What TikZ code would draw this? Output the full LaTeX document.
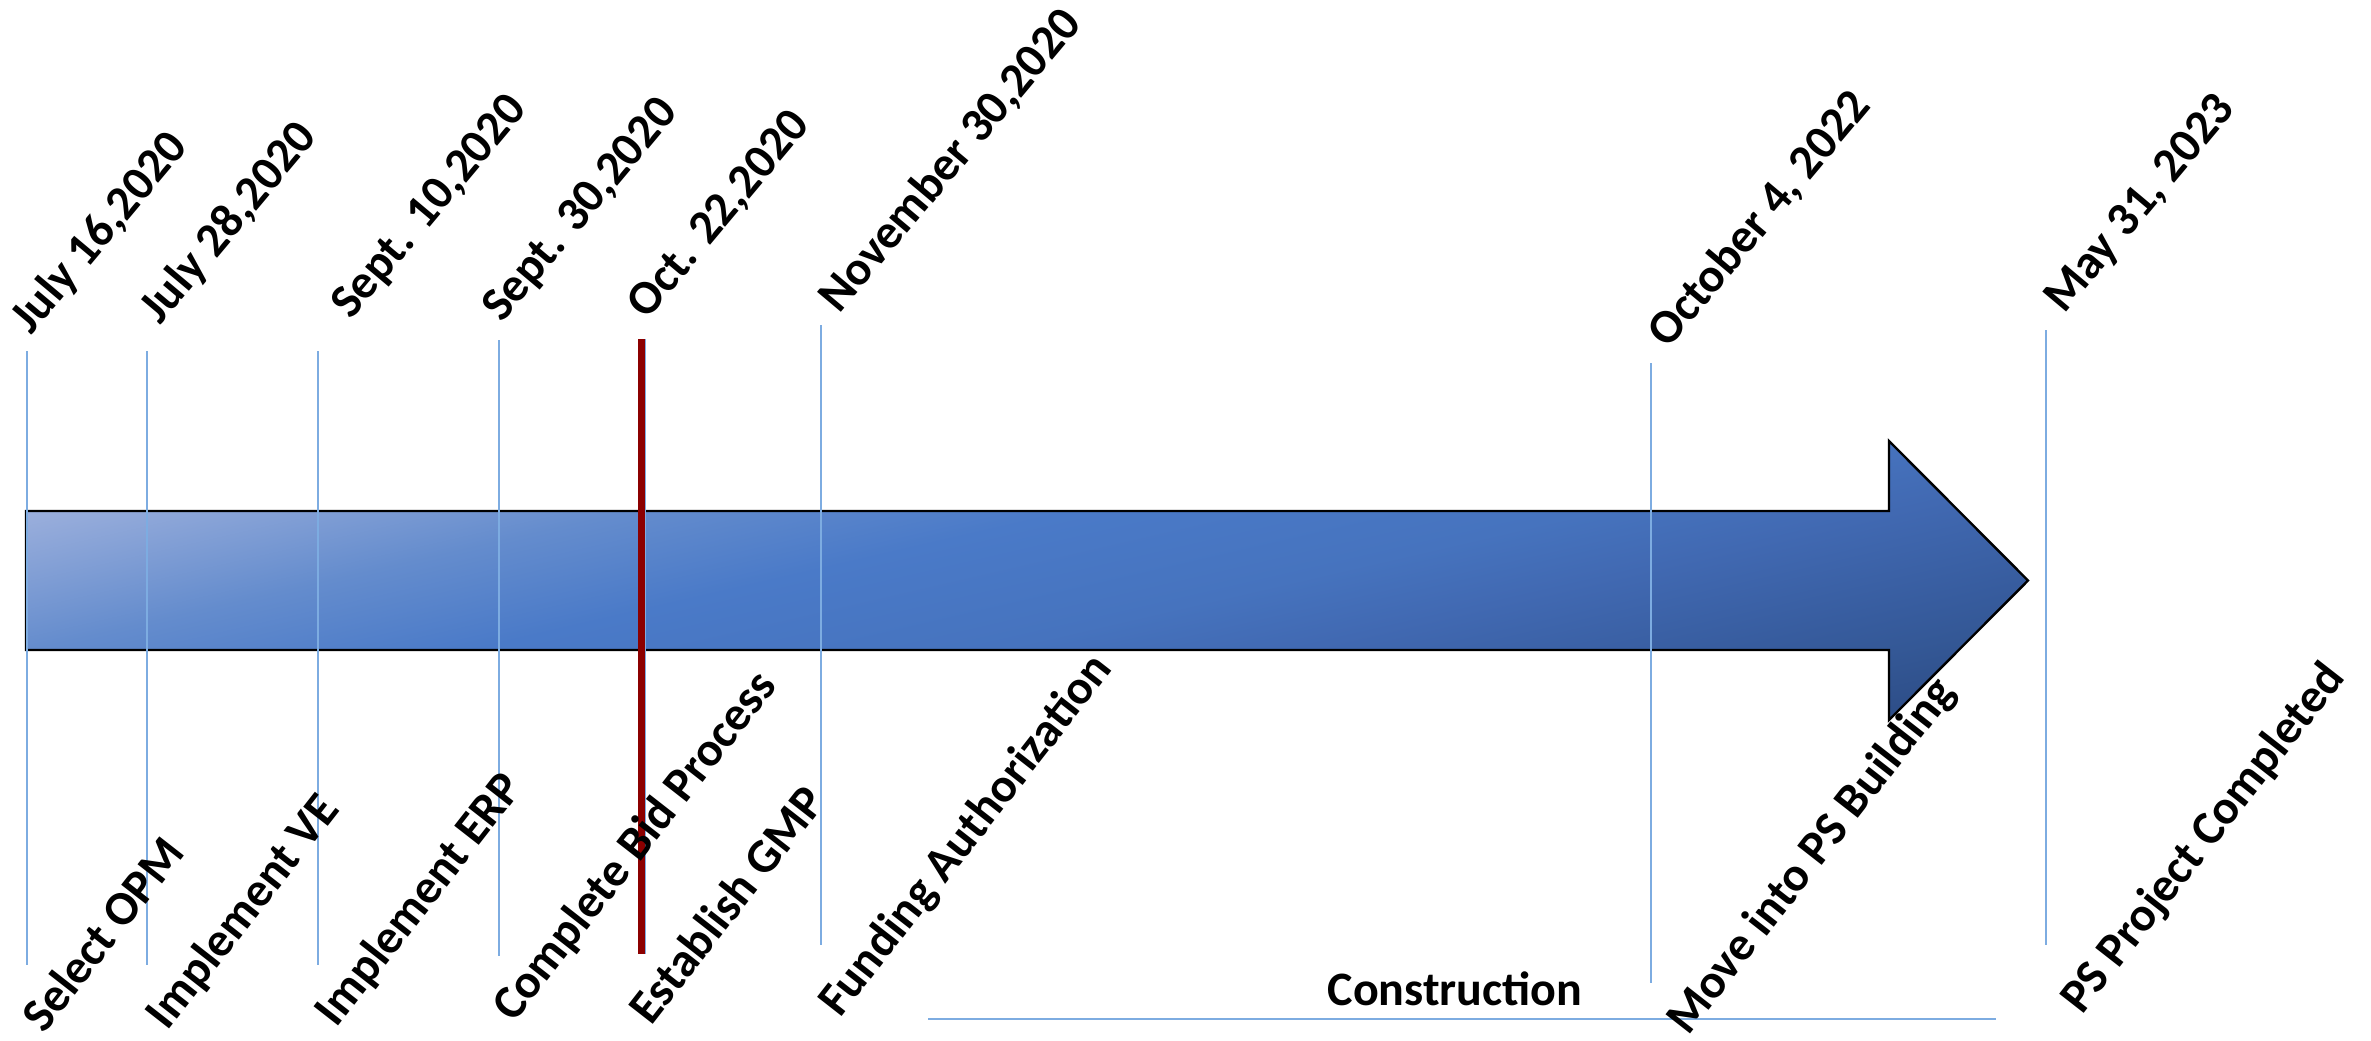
\documentclass[tikz,border=0pt]{standalone}
\usepackage{fontspec}
\setmainfont{Carlito}
\definecolor{arA}{RGB}{170,190,230}
\definecolor{arB}{RGB}{155,175,220}
\definecolor{arC}{RGB}{100,140,205}
\definecolor{arD}{RGB}{74,122,200}
\definecolor{arE}{RGB}{70,115,190}
\definecolor{arF}{RGB}{65,105,178}
\definecolor{arG}{RGB}{55,92,158}
\definecolor{arH}{RGB}{52,88,150}
\definecolor{arI}{RGB}{45,77,135}
\definecolor{arJ}{RGB}{44,76,133}
\definecolor{tickc}{RGB}{125,172,225}
\definecolor{redc}{RGB}{140,0,0}
\pgfdeclarehorizontalshading{arrowshade}{100bp}{color(0bp)=(arA); color(25bp)=(arA); color(29.9bp)=(arB); color(39.6bp)=(arC); color(46.7bp)=(arD); color(55bp)=(arE); color(59.9bp)=(arF); color(67bp)=(arG); color(69.6bp)=(arH); color(74.4bp)=(arI); color(75bp)=(arJ); color(100bp)=(arJ)}
\begin{document}
\begin{tikzpicture}[x=0.5pt,y=-0.5pt,
  lblfont/.style={font=\fontsize{24}{29}\selectfont\bfseries},
  toplbl/.style={lblfont, inner sep=0pt, anchor=base west, rotate=50},
  botlbl/.style={lblfont, inner sep=0pt, anchor=base west, rotate=52},
  tickline/.style={draw=tickc, line width=0.7pt},
  redl/.style={draw=redc, line width=3.5pt}]
\useasboundingbox (0,0) rectangle (2371,1040);
% arrow fill
\begin{scope}
  \clip (26,511) -- (1889,511) -- (1889,441) -- (2028,580.5) -- (1889,720) -- (1889,650) -- (26,650) -- cycle;
  \begin{scope}[transform canvas={rotate around={-77:(26,441)}}]
    \shade[shading=arrowshade] (26,-3000) rectangle (726,3000);
  \end{scope}
\end{scope}
\draw[black, line width=1.2pt, line join=miter]
  (26,511) -- (1889,511) -- (1889,441) -- (2028,580.5) -- (1889,720) -- (1889,650) -- (26,650) -- cycle;
% tick lines
\coordinate (t1a) at (27,351);  \coordinate (t1b) at (27,965);
\coordinate (t2a) at (147,351); \coordinate (t2b) at (147,965);
\coordinate (t3a) at (318,351); \coordinate (t3b) at (318,965);
\coordinate (t4a) at (499,340); \coordinate (t4b) at (499,956);
\coordinate (t5a) at (645,339); \coordinate (t5b) at (645,954);
\coordinate (r5a) at (641,339); \coordinate (r5b) at (641,954);
\coordinate (t6a) at (821,325); \coordinate (t6b) at (821,945);
\coordinate (t7a) at (1651,363); \coordinate (t7b) at (1651,983);
\coordinate (t8a) at (2046,330); \coordinate (t8b) at (2046,945);
\draw[tickline] (t1a) -- (t1b);
\draw[tickline] (t2a) -- (t2b);
\draw[tickline] (t3a) -- (t3b);
\draw[tickline] (t4a) -- (t4b);
\draw[tickline] (t5a) -- (t5b);
\draw[tickline] (t6a) -- (t6b);
\draw[tickline] (t7a) -- (t7b);
\draw[tickline] (t8a) -- (t8b);
\draw[redl] (r5a) -- (r5b);
% construction
\coordinate (ca) at (928,1019); \coordinate (cb) at (1996,1019);
\draw[tickline] (ca) -- (cb);
\node[lblfont, inner sep=0pt] (con) at (1455,989) {Construction};
% top labels
\node[toplbl] (d1) at (31,336) {July 16,2020};
\node[toplbl] (d2) at (160,326) {July 28,2020};
\node[toplbl] (d3) at (351,321) {Sept. 10,2020};
\node[toplbl] (d4) at (502,324) {Sept. 30,2020};
\node[toplbl] (d5) at (647,321) {Oct. 22,2020};
\node[toplbl] (d6) at (839,315) {November 30,2020};
\node[toplbl] (d7) at (1668,350) {October 4, 2022};
\node[toplbl] (d8) at (2064,315) {May 31, 2023};
% bottom labels
\node[botlbl] (e1) at (44,1035) {Select OPM};
\node[botlbl] (e2) at (167,1032) {Implement VE};
\node[botlbl] (e3) at (336,1029) {Implement ERP};
\node[botlbl] (e4) at (514,1024) {Complete Bid Process};
\node[botlbl] (e5) at (651,1027) {Establish GMP};
\node[botlbl] (e6) at (840,1019) {Funding Authorization};
\node[botlbl] (e7) at (1688,1037) {Move into PS Building};
\node[botlbl] (e8) at (2082,1016) {PS Project Completed};
\end{tikzpicture}
\end{document}
